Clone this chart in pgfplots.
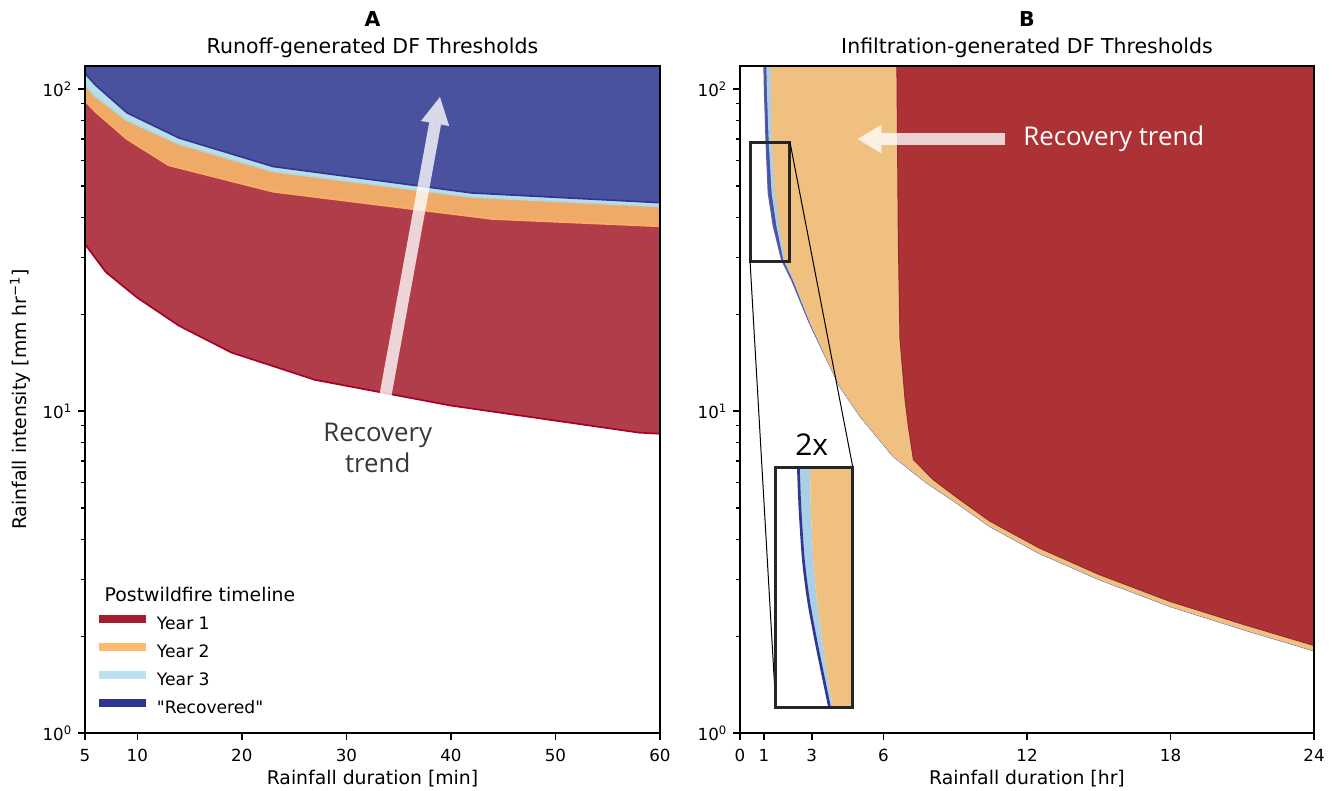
\documentclass[border=0pt]{standalone}
\usepackage{fontspec}
\setmainfont{DejaVu Sans}
\newfontfamily\plainfont{DejaVu Sans}
\newfontfamily\osans{Open Sans}
\usepackage{pgfplots}
\pgfplotsset{compat=1.18}
\usetikzlibrary{arrows.meta}
\pgfkeys{/pgf/number format/assume math mode=true}
\definecolor{rA}{HTML}{B13C4A}
\definecolor{oA}{HTML}{F0AA68}
\definecolor{lA}{HTML}{B9DEE6}
\definecolor{bA}{HTML}{4A52A0}
\definecolor{rE}{HTML}{A50026}
\definecolor{oE}{HTML}{FDAE61}
\definecolor{lE}{HTML}{ABD9E9}
\definecolor{bE}{HTML}{313695}
\definecolor{rB}{HTML}{AD3236}
\definecolor{oB}{HTML}{F0C080}
\definecolor{lB}{HTML}{A9D0E6}
\definecolor{bB}{HTML}{4A52A0}
\definecolor{g1}{HTML}{A51C2E}
\definecolor{g2}{HTML}{FDB96E}
\definecolor{g3}{HTML}{BCE1EE}
\definecolor{g4}{HTML}{2E3590}
\pgfplotsset{legend image code/.code={\draw[#1, line width=4.8pt] (0pt,3.6pt) -- (28pt,3.6pt);}}
\begin{document}
\begin{tikzpicture}
%================ Panel A
\begin{axis}[at={(0pt,0pt)}, anchor=south west, scale only axis, width=345pt, height=400.2pt,
  ymode=log, ymin=1, ymax=118,
  ytick={1,10,100},
  yticklabels={10\textsuperscript{0},10\textsuperscript{1},10\textsuperscript{2}},
  minor ytick={2,3,4,5,6,7,8,9,20,30,40,50,60,70,80,90},
  tick align=outside, tick pos=left,
  axis line style={line width=1.2pt},
  major tick length=4.2pt, minor tick length=2.4pt,
  major tick style={black, line width=0.9pt},
  minor tick style={black, line width=0.7pt},
  xticklabel style={font=\fontsize{10}{12}\selectfont, yshift=-2pt},
  yticklabel style={font=\fontsize{10}{12}\selectfont},
  title style={font=\fontsize{12.3}{16}\selectfont, align=center, at={(axis description cs:0.5,1)}, anchor=south, inner sep=0pt, yshift=-1pt},
  xlabel style={font=\fontsize{11.3}{13}\selectfont, at={(axis description cs:0.5,0)}, anchor=base, inner sep=0pt, yshift=-31pt},
  axis on top,
  xmin=5, xmax=60, xtick={5,10,20,30,40,50,60},
  xlabel={Rainfall duration [min]},
  ylabel={Rainfall intensity [mm hr\textsuperscript{−1}]},
  ylabel style={font=\fontsize{11.3}{13}\selectfont, at={(axis description cs:-0.113,0.5)}, anchor=center, inner sep=0pt},
  title={\textbf{A}\\Runoff-generated DF Thresholds},
  legend style={draw=none, fill=none, inner sep=0pt, at={(rel axis cs:0.0173,0.1777)}, anchor=north west,
    font=\fontsize{10.3}{12}\selectfont, row sep=5.8pt, column sep=4.2pt,
    nodes={inner sep=0pt, text height=8pt, text depth=2pt}},
  legend cell align=left,
]
\addplot[fill=rA, draw=rE, line width=1pt, forget plot] coordinates {(5,33)(7,27)(10,22.5)(14,18.4)(19,15.2)(27,12.5)(40,10.4)(58,8.57)(60,8.5)(60,118)(5,118)} -- cycle;
\addplot[fill=oA, draw=oE, line width=1pt, forget plot] coordinates {(5,92)(6,85)(9,70)(13,58)(23,48)(44,39.5)(60,37.5)(60,118)(5,118)} -- cycle;
\addplot[fill=lA, draw=lE, line width=1pt, forget plot] coordinates {(5,103)(6,95)(9,80)(14,67.5)(23,55.5)(42,46.2)(60,43.2)(60,118)(5,118)} -- cycle;
\addplot[fill=bA, draw=bE, line width=1pt, forget plot] coordinates {(5,112)(6,103)(9,84.5)(14,70.5)(23,57.5)(42,47.6)(60,44.4)(60,118)(5,118)} -- cycle;
\draw[white, opacity=0.78, line width=7.2pt, -{Triangle[width=17pt,length=16pt,line width=0.01pt]}] (axis cs:33.7,11.0) -- (axis cs:38.95,94.4);
\node[font=\osans\fontsize{15.5}{18.6}\selectfont, text=black!78, align=center] at (axis cs:33.0,7.7) {Recovery\\trend};
\node[font=\fontsize{11.3}{13}\selectfont] at (rel axis cs:0.2,0.2084) {Postwildfire timeline};
\addlegendimage{draw=g1}
\addlegendentry{Year 1}
\addlegendimage{draw=g2}
\addlegendentry{Year 2}
\addlegendimage{draw=g3}
\addlegendentry{Year 3}
\addlegendimage{draw=g4}
\addlegendentry{{\plainfont "Recovered"}}
\end{axis}
%================ Panel B
\begin{axis}[at={(393pt,0pt)}, anchor=south west, scale only axis, width=344.4pt, height=400.2pt,
  ymode=log, ymin=1, ymax=118,
  ytick={1,10,100},
  yticklabels={10\textsuperscript{0},10\textsuperscript{1},10\textsuperscript{2}},
  minor ytick={2,3,4,5,6,7,8,9,20,30,40,50,60,70,80,90},
  tick align=outside, tick pos=left,
  axis line style={line width=1.2pt},
  major tick length=4.2pt, minor tick length=2.4pt,
  major tick style={black, line width=0.9pt},
  minor tick style={black, line width=0.7pt},
  xticklabel style={font=\fontsize{10}{12}\selectfont, yshift=-2pt},
  yticklabel style={font=\fontsize{10}{12}\selectfont},
  title style={font=\fontsize{12.3}{16}\selectfont, align=center, at={(axis description cs:0.5,1)}, anchor=south, inner sep=0pt, yshift=-1pt},
  xlabel style={font=\fontsize{11.3}{13}\selectfont, at={(axis description cs:0.5,0)}, anchor=base, inner sep=0pt, yshift=-31pt},
  axis on top,
  xmin=0, xmax=24, xtick={0,1,3,6,12,18,24},
  xlabel={Rainfall duration [hr]},
  title={\textbf{B}\\Infiltration-generated DF Thresholds},
]
\addplot[fill=bB, draw=bE!80!white, line width=0.7pt] coordinates {(1.0,118)(1.02,100)(1.09,68.5)(1.18,47.7)(1.39,37.6)(1.74,29.5)(2.15,25.6)(2.9,18.8)(3.62,14.5)(4.18,11.9)(5.02,9.64)(6.41,7.23)(7.81,5.98)(9.06,5.18)(10.45,4.38)(12.5,3.62)(15,3.0)(18,2.47)(21,2.1)(24,1.8)(24,118)} -- cycle;
\addplot[fill=lB, draw=none] coordinates {(1.1,118)(1.12,100)(1.2,68.5)(1.32,47.7)(1.52,37.6)(1.81,29.5)(2.2,25.6)(2.92,18.8)(3.62,14.5)(4.18,11.9)(5.02,9.64)(6.41,7.23)(7.81,5.98)(9.06,5.18)(10.45,4.38)(12.5,3.62)(15,3.0)(18,2.47)(21,2.1)(24,1.8)(24,118)} -- cycle;
\addplot[fill=oB, draw=none] coordinates {(1.27,118)(1.28,100)(1.32,68.5)(1.46,47.7)(1.64,37.6)(1.88,29.5)(2.23,25.6)(2.93,18.8)(3.62,14.5)(4.18,11.9)(5.02,9.64)(6.41,7.23)(7.81,5.98)(9.06,5.18)(10.45,4.38)(12.5,3.62)(15,3.0)(18,2.47)(21,2.1)(24,1.8)(24,118)} -- cycle;
\addplot[fill=rB, draw=rB!85!black, line width=0.6pt] coordinates {(6.56,118)(6.62,34)(6.69,16.7)(6.9,10.9)(7.04,8.97)(7.25,7.07)(8.08,6.12)(9.2,5.3)(10.45,4.55)(12.5,3.76)(15,3.11)(18,2.56)(21,2.18)(24,1.87)(24,118)} -- cycle;
% zoom inset
\draw[line width=1.8pt, black!85] (axis cs:0.42,29.2) rectangle (axis cs:2.09,68.4);
\draw[line width=0.6pt, black] (axis cs:0.42,29.2) -- (axis cs:1.5,1.196);
\draw[line width=0.6pt, black] (axis cs:2.09,68.4) -- (axis cs:4.72,6.67);
\addplot[fill=white, draw=none] coordinates {(1.5,1.196)(4.72,1.196)(4.72,6.67)(1.5,6.67)} -- cycle;
\addplot[fill=lB, draw=none] coordinates {(2.44,6.67)(2.51,4.94)(2.65,3.45)(2.86,2.59)(3.14,1.99)(3.42,1.57)(3.75,1.196)(3.88,1.196)(3.62,1.57)(3.42,1.99)(3.21,2.59)(3.06,3.45)(2.96,4.94)(2.93,6.67)} -- cycle;
\addplot[fill=oB, draw=none] coordinates {(2.93,6.67)(2.96,4.94)(3.06,3.45)(3.21,2.59)(3.42,1.99)(3.62,1.57)(3.88,1.196)(4.72,1.196)(4.72,6.67)} -- cycle;
\addplot[color=bE, line width=1.6pt, smooth] coordinates {(2.44,6.67)(2.51,4.94)(2.65,3.45)(2.86,2.59)(3.14,1.99)(3.42,1.57)(3.75,1.196)};
\draw[line width=1.8pt, black!85] (axis cs:1.5,1.196) rectangle (axis cs:4.72,6.67);
\node[font=\osans\fontsize{18}{20}\selectfont] at (axis cs:3.0,7.87) {2x};
\draw[white, opacity=0.78, line width=7pt, -{Triangle[width=17pt,length=14pt,line width=0.01pt]}] (axis cs:11.08,70) -- (axis cs:4.93,70);
\node[anchor=west, text=white, font=\osans\fontsize{15.5}{18}\selectfont] at (axis cs:11.6,70) {Recovery trend};
\end{axis}
\pgfresetboundingbox
\path[use as bounding box] (-51pt,-34.2pt) rectangle (751.8pt,439.8pt);
\end{tikzpicture}
\end{document}
